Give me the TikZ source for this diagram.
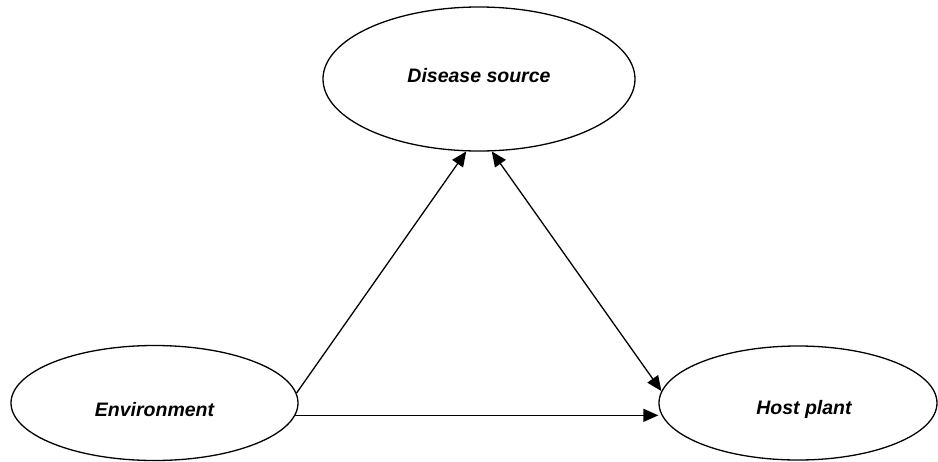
\documentclass[tikz,border=0pt]{standalone}
\usepackage{fontspec}
\setmainfont{Liberation Sans}
\usetikzlibrary{arrows.meta,shapes.geometric}
\begin{document}
\begin{tikzpicture}[x=1pt,y=-1pt,
  oval/.style={ellipse, draw, line width=1.3pt, inner sep=0pt},
  lbl/.style={font=\fontsize{19.5}{22}\selectfont\bfseries\itshape, inner sep=0pt},
  conn/.style={line width=1.3pt, -{Triangle[length=15pt,width=13pt]}},
  bconn/.style={line width=1.3pt, {Triangle[length=15pt,width=13pt]}-{Triangle[length=15pt,width=13pt]}},
]
\useasboundingbox (0,0) rectangle (938,461);
\node[oval, minimum width=312pt, minimum height=144pt,
  label={[lbl,yshift=3.5pt]center:Disease source}] (ds) at (479,79) {};
\node[oval, minimum width=287pt, minimum height=115pt,
  label={[lbl,yshift=-7pt]center:Environment}] (env) at (154.5,403) {};
\node[oval, minimum width=278pt, minimum height=114pt,
  label={[lbl,yshift=-6.5pt,xshift=6pt]center:Host plant}] (host) at (798,403) {};
\draw[conn] (env.4) -- (ds.260);
\draw[conn] (env.-5) -- (env.-5 -| host.west);
\draw[bconn] (ds.280) -- (host.175);
\end{tikzpicture}
\end{document}
